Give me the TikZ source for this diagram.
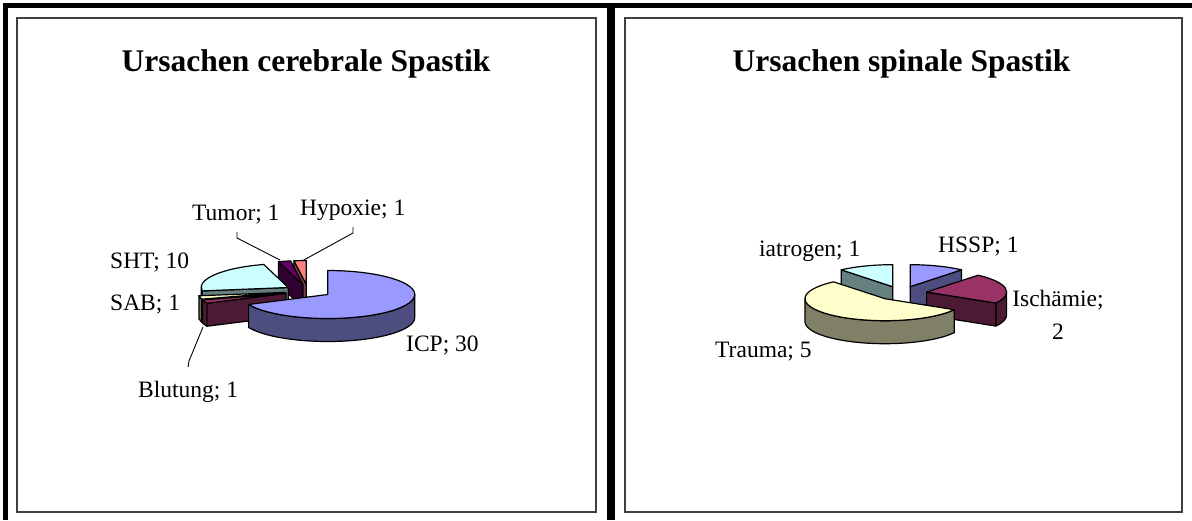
\documentclass[tikz,border=0pt]{standalone}
\usepackage{fontspec}
\setmainfont{Liberation Serif}
\usetikzlibrary{calc}
\definecolor{periTop}{HTML}{9999FF}\definecolor{periSide}{HTML}{4D4D80}
\definecolor{plumTop}{HTML}{993366}\definecolor{plumSide}{HTML}{4D1A33}
\definecolor{yelTop}{HTML}{FFFFCC}\definecolor{yelSide}{HTML}{808066}
\definecolor{turTop}{HTML}{CCFFFF}\definecolor{turSide}{HTML}{668080}
\definecolor{purTop}{HTML}{660066}\definecolor{purSide}{HTML}{330033}
\definecolor{corTop}{HTML}{FF8080}\definecolor{corSide}{HTML}{804040}
\definecolor{boxgray}{HTML}{404040}
\tikzset{
  pie/.style={draw=black, line width=1.2, line join=round},
  frame/.style={draw=black},
  panelbox/.style={draw=boxgray, line width=1.5},
  charttitle/.style={font=\fontsize{31.5}{36}\selectfont\bfseries, inner sep=0, anchor=base},
  lab/.style={font=\fontsize{23.5}{33}\selectfont, inner sep=0, anchor=base west},
  labc/.style={font=\fontsize{23.5}{33}\selectfont, inner sep=0, anchor=base},
  leader/.style={draw=black, line width=0.9}
}
% #1 cx, #2 cy, #3 lo angle, #4 hi angle, #5 top colour, #6 side colour, #7/#8 visible outer side range
\newcommand\pslice[8]{%
  \pgfmathsetmacro\pmid{(#3+#4)/2}%
  \pgfmathsetmacro\ptx{#1+\pE*\pRX*cos(\pmid)}%
  \pgfmathsetmacro\pty{#2+\pE*\pRY*sin(\pmid)}%
  \pgfmathsetmacro\pbty{\pty-\pH}%
  \pgfmathsetmacro\plx{\ptx+\pRX*cos(#3)}%
  \pgfmathsetmacro\ply{\pty+\pRY*sin(#3)}%
  \pgfmathsetmacro\pblY{\ply-\pH}%
  \pgfmathsetmacro\phx{\ptx+\pRX*cos(#4)}%
  \pgfmathsetmacro\phy{\pty+\pRY*sin(#4)}%
  \pgfmathsetmacro\pbhy{\phy-\pH}%
  \pgfmathtruncatemacro\pflo{ifthenelse(cos(#3)>0.01,1,0)}%
  \pgfmathtruncatemacro\pfhi{ifthenelse(cos(#4)<-0.01,1,0)}%
  \pgfmathtruncatemacro\pfs{ifthenelse(#8>#7,1,0)}%
  \ifnum\pflo=1
    \filldraw[pie,fill=#6] (\ptx,\pty) -- (\plx,\ply) -- (\plx,\pblY) -- (\ptx,\pbty) -- cycle;
  \fi
  \ifnum\pfhi=1
    \filldraw[pie,fill=#6] (\ptx,\pty) -- (\phx,\phy) -- (\phx,\pbhy) -- (\ptx,\pbty) -- cycle;
  \fi
  \ifnum\pfs=1
    \pgfmathsetmacro\psx{\ptx+\pRX*cos(#7)}%
    \pgfmathsetmacro\psy{\pty+\pRY*sin(#7)}%
    \filldraw[pie,fill=#6] (\psx,\psy) arc[start angle=#7,end angle=#8,x radius=\pRX,y radius=\pRY] -- ++(0,-\pH) arc[start angle=#8,end angle=#7,x radius=\pRX,y radius=\pRY] -- cycle;
  \fi
  \filldraw[pie,fill=#5] (\ptx,\pty) -- (\plx,\ply) arc[start angle=#3,end angle=#4,x radius=\pRX,y radius=\pRY] -- cycle;
}
\begin{document}
\begin{tikzpicture}[x=1pt,y=1pt]
\useasboundingbox (0,0) rectangle (1192,-520);
% frames
\draw[frame, line width=5.5] (5.5,-520) -- (5.5,-5.5) -- (1192,-5.5);
\draw[frame, line width=8] (611,-5.5) -- (611,-520);
\draw[panelbox] (17,-18) rectangle (596,-512);
\draw[panelbox] (625,-18) rectangle (1182,-512);
% titles
\node[charttitle] (t1) at (306,-71) {Ursachen cerebrale Spastik};
\node[charttitle] (t2) at (901.5,-71) {Ursachen spinale Spastik};
% left pie (total 44)
\def\pRX{87}\def\pRY{24}\def\pH{23}\def\pE{0.27}
\pslice{308}{-291}{90}{98.1818}{corTop}{corSide}{0}{0}
\pslice{308}{-291}{98.1818}{106.3636}{purTop}{purSide}{0}{0}
\pslice{308}{-291}{106.3636}{188.1818}{turTop}{turSide}{180}{188.1818}
\pslice{308}{-291}{188.1818}{196.3636}{yelTop}{yelSide}{188.1818}{196.3636}
\pslice{308}{-291}{196.3636}{204.5454}{plumTop}{plumSide}{196.3636}{204.5454}
\pslice{308}{-291}{-155.4546}{90}{periTop}{periSide}{-155.4546}{0}
% right pie (total 9)
\def\pRX{80}\def\pRY{22}\def\pH{23}\def\pE{0.32}
\pslice{901.4}{-293.3}{50}{90}{periTop}{periSide}{0}{0}
\pslice{901.4}{-293.3}{90}{130}{turTop}{turSide}{0}{0}
\pslice{901.4}{-293.3}{-30}{50}{plumTop}{plumSide}{-30}{0}
\pslice{901.4}{-293.3}{130}{330}{yelTop}{yelSide}{180}{330}
% left labels
\node[lab] (hyp) at (300,-215) {Hypoxie; 1};
\node[lab] (tum) at (192,-220) {Tumor; 1};
\node[lab] (sht) at (110,-268) {SHT; 10};
\node[lab] (sab) at (110,-310) {SAB; 1};
\node[lab] (blu) at (138,-397) {Blutung; 1};
\node[lab] (icp) at (406,-351) {ICP; 30};
% right labels
\node[lab] (iat) at (759,-256) {iatrogen; 1};
\node[lab] (hssp) at (938,-252) {HSSP; 1};
\node[labc] (isch) at (1058,-306) {Ischämie;};
\node[labc] (isch2) at (1058,-339) {2};
\node[lab] (trau) at (715,-357) {Trauma; 5};
% leader lines
\coordinate (tumA) at (237,-232);
\coordinate (tumB) at (237,-238);
\coordinate (tumC) at (280,-260);
\coordinate (hypA) at (353,-227);
\coordinate (hypB) at (353,-233);
\coordinate (hypC) at (302,-261);
\coordinate (bluA) at (188,-367);
\coordinate (bluB) at (189,-361);
\coordinate (bluC) at (203,-327);
\draw[leader] (tumA) -- (tumB) -- (tumC);
\draw[leader] (hypA) -- (hypB) -- (hypC);
\draw[leader] (bluA) -- (bluB) -- (bluC);
\end{tikzpicture}
\end{document}
